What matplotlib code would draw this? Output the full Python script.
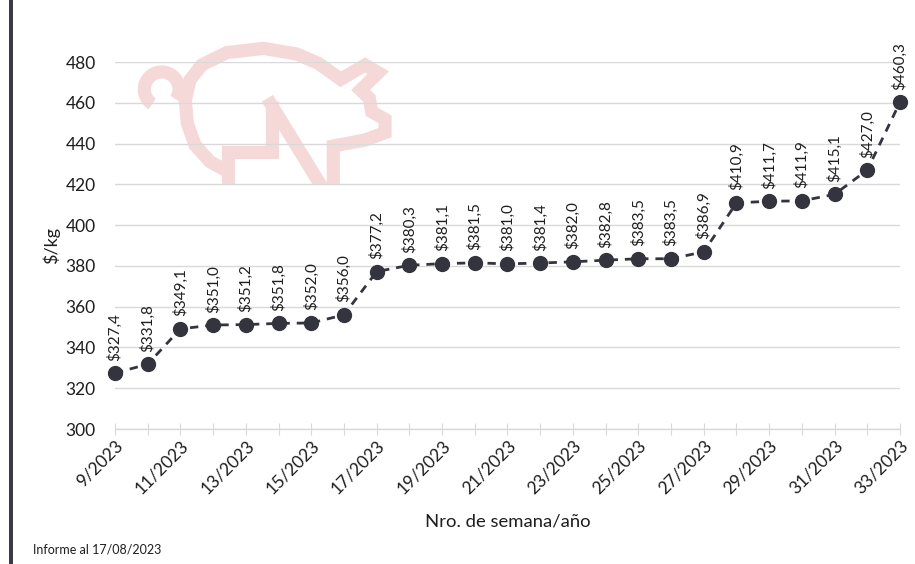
import matplotlib
matplotlib.use("Agg")
import matplotlib.pyplot as plt
from matplotlib.patches import Rectangle
import numpy as np

plt.rcParams['font.family'] = ['Lato', 'DejaVu Sans']

weeks = list(range(9, 34))
prices = [327.4, 331.8, 349.1, 351.0, 351.2, 351.8, 352.0, 356.0, 377.2, 380.3,
          381.1, 381.5, 381.0, 381.4, 382.0, 382.8, 383.5, 383.5, 386.9, 410.9,
          411.7, 411.9, 415.1, 427.0, 460.3]
tick_labels = [f"{w}/2023" if w % 2 == 1 else "" for w in weeks]
y_ticks = [300, 320, 340, 360, 380, 400, 420, 440, 460, 480]

W, H = 915, 564
fig = plt.figure(figsize=(W / 100, H / 100), dpi=100)

# background layer in pixel coordinates (watermark + left bar)
bg = fig.add_axes([0, 0, 1, 1], zorder=0)
bg.set_xlim(0, W)
bg.set_ylim(H, 0)
bg.axis('off')
bg.add_patch(Rectangle((9, 0), 4, H, color='#3b3b47', lw=0))

def z(pts):
    a = np.array(pts, dtype=float)
    return 130 + a[:, 0] / 3, 30 + a[:, 1] / 3

pig_col = '#f5d9d9'
clip = Rectangle((0, 0), W, 185, transform=bg.transData)
pig_paths = [
    # rear leg + step + inner vertical
    [(295, 470), (295, 365), (425, 365), (425, 212)],
    # diagonal
    [(412, 205), (575, 470)],
    # outline: body left curve, back, ear, snout, front leg
    [(300, 428), (240, 395), (195, 345), (172, 280), (166, 210), (180, 150), (215, 105),
     (290, 68), (400, 55), (500, 72), (565, 100), (632, 148), (705, 105), (745, 128),
     (692, 180), (718, 205), (725, 245), (765, 268), (765, 308), (705, 330), (610, 348),
     (610, 470)],
]
for p in pig_paths:
    xs, ys = z(p)
    ln, = bg.plot(xs, ys, color=pig_col, lw=9.5, solid_capstyle='butt', solid_joinstyle='miter')
    ln.set_clip_path(clip)
# tail curl
t = np.radians(np.linspace(123, 395, 60))
tx = 95 + 52 * np.cos(t)
ty = 178 + 52 * np.sin(t)
xs, ys = z(list(zip(tx, ty)))
bg.plot(xs, ys, color=pig_col, lw=9.5, solid_capstyle='butt')

# main axes
left, right = 115 / W, 900 / W
bottom, top = 1 - 429 / H, 1 - 62 / H
ax = fig.add_axes([left, bottom, right - left, top - bottom], zorder=1)
ax.set_facecolor('none')
ax.set_xlim(weeks[0], weeks[-1])
ax.set_ylim(300, 480)
ax.set_yticks(y_ticks)
ax.set_yticklabels([str(v) for v in y_ticks], fontsize=12.5, color='#1e1e1e')
ax.set_xticks(weeks)
ax.set_xticklabels(tick_labels, rotation=45, ha='right', rotation_mode='anchor',
                   fontsize=12.5, color='#1e1e1e')
ax.grid(axis='y', color='#d9d9d9', lw=1)
ax.set_axisbelow(True)
for s in ['left', 'right', 'top']:
    ax.spines[s].set_visible(False)
ax.spines['bottom'].set_color('#d9d9d9')
ax.spines['bottom'].set_linewidth(1)
ax.tick_params(axis='y', length=0, pad=14)
ax.tick_params(axis='x', direction='inout', length=8, color='#d9d9d9', pad=2)
for lab in ax.get_xticklabels():
    lab.set_va('top')

ax.plot(weeks, prices, color='#34343f', lw=2, ls=(0, (3, 2.5)), marker='o',
        markersize=10, markerfacecolor='#34343f', markeredgecolor='#34343f', clip_on=False,
        zorder=3)
for w, v in zip(weeks, prices):
    ax.annotate("$" + f"{v:.1f}".replace('.', ','), (w, v), xytext=(0, 9),
                textcoords='offset points', rotation=90, ha='center', va='bottom',
                fontsize=11, color='#1e1e1e', annotation_clip=False)

ax.set_ylabel("$/kg", fontsize=13, color='#1e1e1e', labelpad=4)
ax.set_xlabel("Nro. de semana/año", fontsize=13.3, color='#1e1e1e', labelpad=12)

fig.text(33 / W, 1 - 549 / H, "Informe al 17/08/2023", fontsize=9, color='#1e1e1e',
         va='center', ha='left')

fig.savefig("out.png", dpi=100)
